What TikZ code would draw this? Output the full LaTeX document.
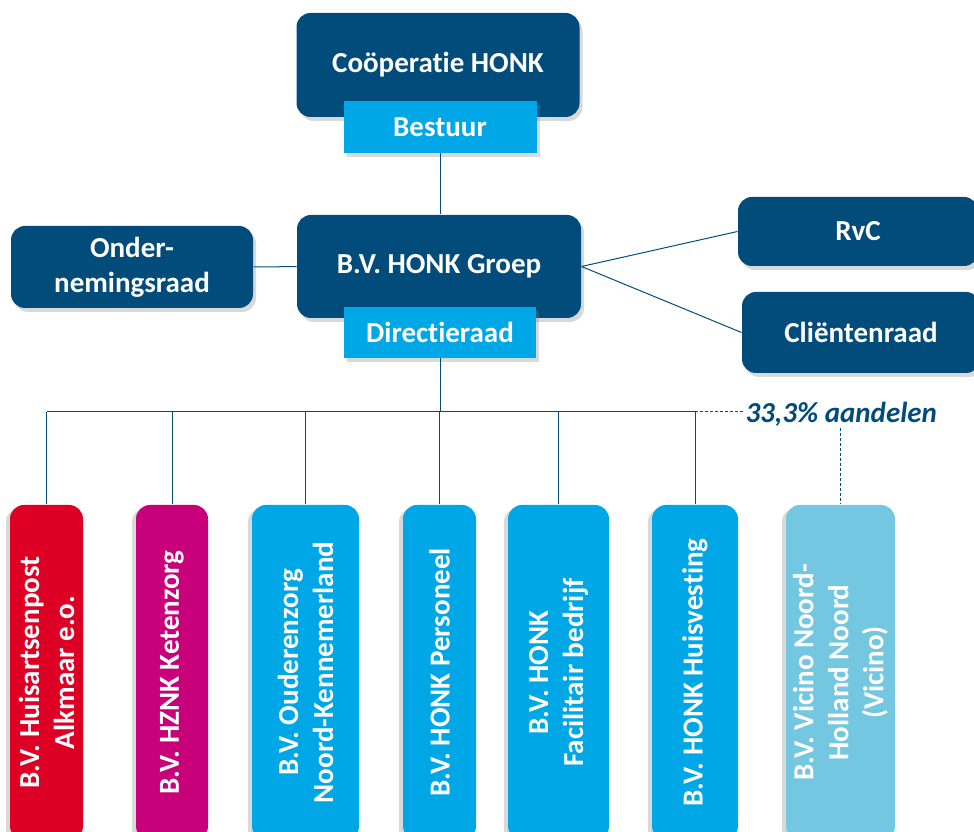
\documentclass[tikz,border=0pt]{standalone}
\usepackage{fontspec}
\setmainfont{Carlito}[Ligatures={NoCommon,NoContextual}, Contextuals=NoAlternate]
\usetikzlibrary{shadows}

\definecolor{honknavy}{RGB}{2,76,124}
\definecolor{honkblue}{RGB}{0,167,231}
\definecolor{honkred}{RGB}{222,0,36}
\definecolor{honkmagenta}{RGB}{200,0,122}
\definecolor{honkpale}{RGB}{116,199,224}

\begin{document}
\begin{tikzpicture}[
    x=1pt, y=1pt,
    line width=1pt,
    font=\bfseries\fontsize{29}{35}\selectfont,
    unit/.style={
        rectangle,
        rounded corners=14pt,
        fill=honknavy,
        text=white,
        align=center,
        inner sep=2pt
    },
    box/.style={
        unit,
        drop shadow={shadow xshift=3pt, shadow yshift=-4pt, opacity=.3}
    },
    tag/.style={
        rectangle,
        fill=honkblue,
        text=white,
        inner sep=2pt,
        drop shadow={shadow xshift=3pt, shadow yshift=-4pt, opacity=.3}
    },
    bv/.style={
        unit,
        rotate=90,
        minimum width=335pt,
        drop shadow={shadow xshift=-4pt, shadow yshift=-3pt, opacity=.3}
    },
    link/.style={draw=honknavy},
    share/.style={draw=honknavy, dash pattern=on 3pt off 2pt}
]
\useasboundingbox (0,0) rectangle (974,832);
\clip (0,0) rectangle (974,832);

% top of the group
\node[box, minimum width=283pt, minimum height=104pt] (coop) at (438,767) {Coöperatie HONK};
\node[tag, minimum width=193pt, minimum height=52pt] (bestuur) at (440,705) {Bestuur};
\node[box, minimum width=284pt, minimum height=103pt] (groep) at (439,565.5) {B.V. HONK Groep};
\node[tag, minimum width=192pt, minimum height=51pt] (direct) at (440,499.5) {Directieraad};
\node[box, minimum width=242pt, minimum height=82pt] (onder) at (132,565) {Onder-\\nemingsraad};
\node[box, minimum width=240pt, minimum height=69pt] (rvc) at (858,600.5) {RvC};
\node[box, minimum width=238pt, minimum height=81pt] (client) at (861,499.5) {Cliëntenraad};

\draw[link] (bestuur.south) -- (bestuur.south |- groep.north);
\draw[link] (onder) -- (groep);
\draw[link] (groep.east) -- (rvc.west);
\draw[link] (groep.east) -- (client.west);

% the B.V.s
\node[bv, minimum height=73pt, fill=honkred] (hap) at (46.5,159.5) {B.V. Huisartsenpost\\Alkmaar e.o.};
\node[bv, minimum height=72pt, fill=honkmagenta] (hznk) at (172,159.5) {B.V. HZNK Ketenzorg};
\node[bv, minimum height=107pt, fill=honkblue] (ouder) at (305.5,159.5) {B.V. Ouderenzorg\\Noord-Kennemerland};
\node[bv, minimum height=73pt, fill=honkblue] (pers) at (439.5,159.5) {B.V. HONK Personeel};
\node[bv, minimum height=101pt, fill=honkblue] (facil) at (558.5,159.5) {B.V. HONK\\Facilitair bedrijf};
\node[bv, minimum height=86pt, fill=honkblue] (huisv) at (695,159.5) {B.V. HONK Huisvesting};
\node[bv, minimum height=109pt, fill=honkpale] (vicino) at (840.5,159.5) {B.V. Vicino Noord-\\Holland Noord\\(Vicino)};

\coordinate (bus) at (440,420);
\draw[link] (direct.south) -- (bus);
\draw[link] (hap |- bus) -- (huisv |- bus);
\foreach \n in {hap,hznk,ouder,pers,facil,huisv}
    \draw[link] (\n |- bus) -- (\n);

% shares
\node[text=honknavy, font=\bfseries\itshape\fontsize{29}{35}\selectfont, anchor=west, inner sep=1pt] (aandelen) at (744,418) {33,3\% aandelen};
\draw[share] (huisv |- bus) -- (bus -| aandelen.west);
\draw[share] (aandelen.south -| vicino) -- (vicino);

\end{tikzpicture}
\end{document}
